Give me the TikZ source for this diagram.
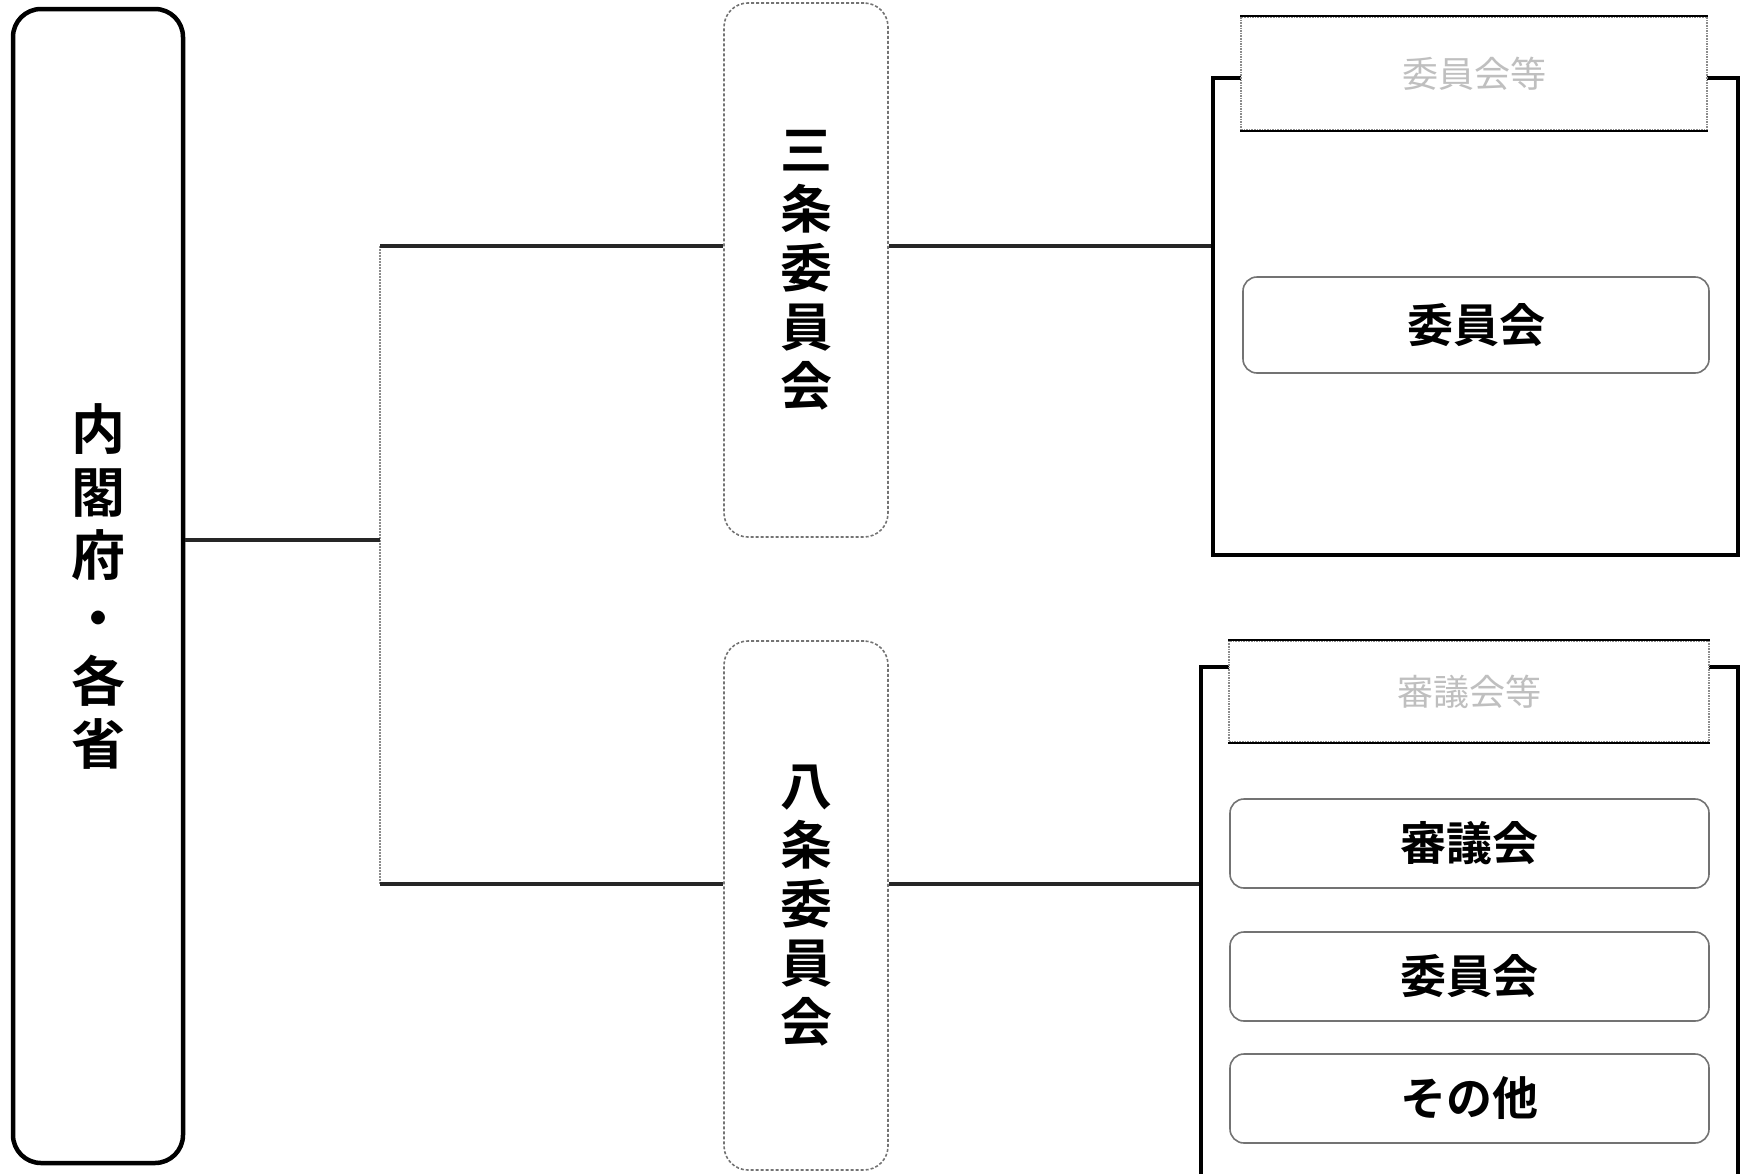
\documentclass[tikz,border=0pt]{standalone}
\usepackage{fontspec}
\newfontfamily\cjk{Noto Sans CJK JP}[BoldFont={Noto Sans CJK JP Bold}]
\tikzset{
  mainbox/.style={draw, line width=4.5pt, rounded corners=28pt, inner sep=0pt, align=center,
    font={\cjk\bfseries\fontsize{54pt}{63pt}\selectfont}},
  colbox/.style={draw=black!55, densely dashed, line width=1.6pt, rounded corners=24pt, inner sep=0pt, align=center,
    font={\cjk\bfseries\fontsize{52pt}{59pt}\selectfont}},
  groupbox/.style={draw, line width=4.5pt, inner sep=0pt},
  headbox/.style={fill=white, draw=black!45, densely dotted, line width=1.6pt, inner sep=0pt,
    text=black!25, font={\cjk\fontsize{36pt}{40pt}\selectfont}},
  itembox/.style={draw=black!55, line width=1.6pt, rounded corners=14pt, inner sep=0pt,
    font={\cjk\bfseries\fontsize{46pt}{50pt}\selectfont}},
  conn/.style={line width=3.5pt, black!85},
  vconn/.style={line width=2pt, black!45, densely dotted},
  headline/.style={line width=2.5pt}
}
\begin{document}
\begin{tikzpicture}[x=1pt,y=-1pt]
\useasboundingbox (0,0) rectangle (1740,1173);
% left main box
\node[mainbox, minimum width=170pt, minimum height=1154pt] (L) at (98,586) {内\\閣\\府\\・\\各\\省};
% column boxes
\node[colbox, minimum width=164pt, minimum height=534pt] (S3) at (806,270) {三\\条\\委\\員\\会};
\node[colbox, minimum width=164pt, minimum height=529pt] (S8) at (806,905.5) {八\\条\\委\\員\\会};
% right group boxes
\node[groupbox, minimum width=525pt, minimum height=477pt] (R1) at (1475.5,316.5) {};
\node[headbox, minimum width=466pt, minimum height=113pt] (H1) at (1474,73.5) {委員会等};
\draw[headline] (H1.north west) -- (H1.north east);
\draw[headline] (H1.south west) -- (H1.south east);
\node[itembox, minimum width=466pt, minimum height=96pt] (I1) at (1476,325) {委員会};

\node[groupbox, minimum width=537pt, minimum height=533pt] (R2) at (1469.5,933.5) {};
\node[headbox, minimum width=480pt, minimum height=101pt] (H2) at (1469,691.5) {審議会等};
\draw[headline] (H2.north west) -- (H2.north east);
\draw[headline] (H2.south west) -- (H2.south east);
\node[itembox, minimum width=479pt, minimum height=89pt] (I2) at (1469.5,843.5) {審議会};
\node[itembox, minimum width=479pt, minimum height=89pt] (I3) at (1469.5,976.5) {委員会};
\node[itembox, minimum width=479pt, minimum height=89pt] (I4) at (1469.5,1098.5) {その他};
% connectors
\coordinate (T) at (380,246);
\coordinate (J) at (380,540);
\coordinate (B) at (380,884);
\draw[vconn] (T) -- (B);
\draw[conn] (J -| L.east) -- (J);
\draw[conn] (T) -- (T -| S3.west);
\draw[conn] (B) -- (B -| S8.west);
\draw[conn] (T -| S3.east) -- (T -| R1.west);
\draw[conn] (B -| S8.east) -- (B -| R2.west);
\end{tikzpicture}
\end{document}
